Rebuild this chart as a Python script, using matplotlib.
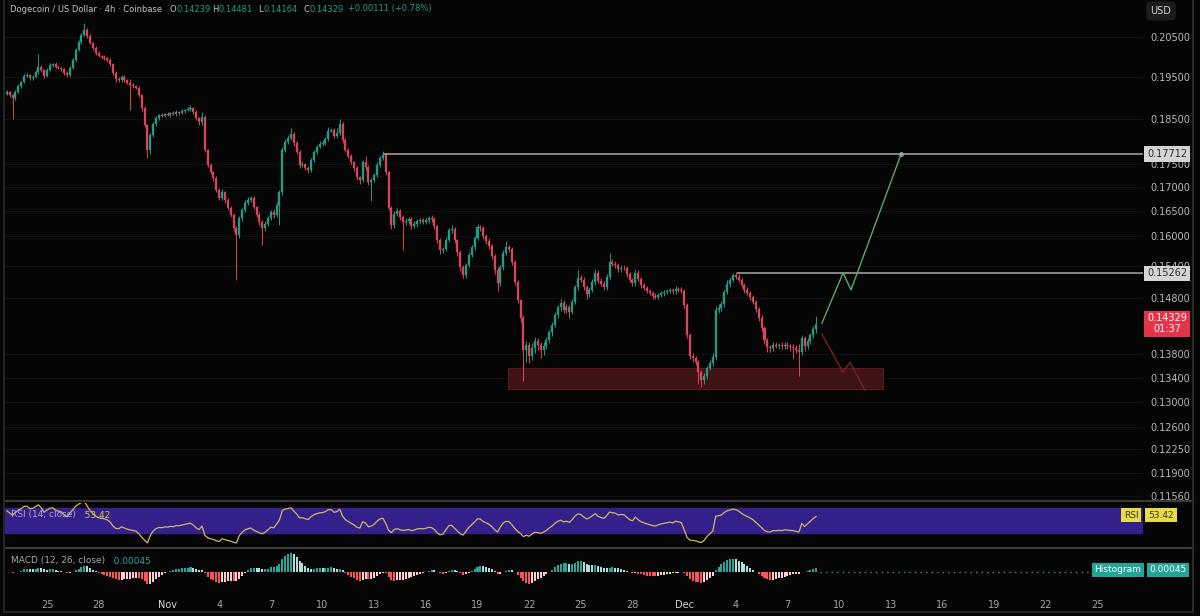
import numpy as np
import matplotlib
matplotlib.use("Agg")
import matplotlib.pyplot as plt
from matplotlib import transforms
from matplotlib.patches import Rectangle
from matplotlib.ticker import NullLocator

# ---------------- data (x = days since Oct 25, 4h candles) ----------------
first_candle_day = -7 / 3          # Oct 22 16:00
candle_step = 1 / 6                # 4 hours
first_open = 0.1910

closes = [
    0.1914, 0.1907,                                   # Oct 22
    0.1900, 0.1914, 0.1928, 0.1938, 0.1953, 0.1955,   # Oct 23
    0.1948, 0.1950, 0.1962, 0.1975, 0.1967, 0.1953,   # Oct 24
    0.1967, 0.1980, 0.1982, 0.1975, 0.1972, 0.1970,   # Oct 25
    0.1960, 0.1955, 0.1972, 0.1992, 0.2017, 0.2037,   # Oct 26
    0.2055, 0.2068, 0.2053, 0.2035, 0.2022, 0.2010,   # Oct 27
    0.2002, 0.1999, 0.1997, 0.1992, 0.1982, 0.1960,   # Oct 28
    0.1945, 0.1943, 0.1950, 0.1943, 0.1936, 0.1931,   # Oct 29
    0.1928, 0.1924, 0.1907, 0.1876, 0.1837, 0.1780,   # Oct 30
    0.1814, 0.1839, 0.1853, 0.1860, 0.1858, 0.1862,   # Oct 31
    0.1860, 0.1864, 0.1862, 0.1867, 0.1865, 0.1869,   # Nov 1
    0.1871, 0.1874, 0.1876, 0.1867, 0.1853, 0.1843,   # Nov 2
    0.1855, 0.1780, 0.1747, 0.1732, 0.1719, 0.1694,   # Nov 3
    0.1677, 0.1689, 0.1673, 0.1656, 0.1642, 0.1615,   # Nov 4
    0.1601, 0.1635, 0.1652, 0.1666, 0.1673, 0.1677,   # Nov 5
    0.1658, 0.1642, 0.1627, 0.1615, 0.1623, 0.1635,   # Nov 6
    0.1648, 0.1642, 0.1662, 0.1689, 0.1780, 0.1798,   # Nov 7
    0.1807, 0.1816, 0.1796, 0.1776, 0.1747, 0.1749,   # Nov 8
    0.1741, 0.1736, 0.1758, 0.1776, 0.1787, 0.1794,   # Nov 9
    0.1796, 0.1805, 0.1823, 0.1825, 0.1812, 0.1818,   # Nov 10
    0.1839, 0.1803, 0.1780, 0.1767, 0.1754, 0.1741,   # Nov 11
    0.1721, 0.1715, 0.1754, 0.1743, 0.1710, 0.1715,   # Nov 12
    0.1726, 0.1747, 0.1763, 0.1769, 0.1732, 0.1656,   # Nov 13
    0.1621, 0.1644, 0.1650, 0.1637, 0.1627, 0.1629,   # Nov 14
    0.1633, 0.1619, 0.1623, 0.1629, 0.1631, 0.1628,   # Nov 15
    0.1631, 0.1635, 0.1633, 0.1619, 0.1591, 0.1571,   # Nov 16
    0.1574, 0.1591, 0.1611, 0.1613, 0.1591, 0.1567,   # Nov 17
    0.1538, 0.1523, 0.1542, 0.1562, 0.1577, 0.1595,   # Nov 18
    0.1617, 0.1615, 0.1599, 0.1589, 0.1579, 0.1560,   # Nov 19
    0.1533, 0.1508, 0.1538, 0.1565, 0.1577, 0.1573,   # Nov 20
    0.1548, 0.1510, 0.1476, 0.1444, 0.1387, 0.1396,   # Nov 21
    0.1377, 0.1391, 0.1403, 0.1396, 0.1387, 0.1394,   # Nov 22
    0.1404, 0.1418, 0.1431, 0.1449, 0.1463, 0.1471,   # Nov 23
    0.1458, 0.1463, 0.1454, 0.1473, 0.1500, 0.1517,   # Nov 24
    0.1514, 0.1500, 0.1487, 0.1495, 0.1510, 0.1527,   # Nov 25
    0.1512, 0.1506, 0.1500, 0.1519, 0.1548, 0.1545,   # Nov 26
    0.1542, 0.1534, 0.1537, 0.1536, 0.1525, 0.1514,   # Nov 27
    0.1508, 0.1527, 0.1515, 0.1504, 0.1499, 0.1493,   # Nov 28
    0.1489, 0.1484, 0.1482, 0.1486, 0.1489, 0.1491,   # Nov 29
    0.1493, 0.1495, 0.1492, 0.1497, 0.1495, 0.1493,   # Nov 30
    0.1467, 0.1413, 0.1377, 0.1373, 0.1366, 0.1349,   # Dec 1
    0.1336, 0.1343, 0.1356, 0.1365, 0.1375, 0.1458,   # Dec 2
    0.1462, 0.1469, 0.1491, 0.1506, 0.1514, 0.1523,   # Dec 3
    0.1520, 0.1514, 0.1504, 0.1495, 0.1489, 0.1482,   # Dec 4
    0.1473, 0.1460, 0.1444, 0.1426, 0.1404, 0.1392,   # Dec 5
    0.1390, 0.1396, 0.1394, 0.1396, 0.1393, 0.1396,   # Dec 6
    0.1394, 0.1392, 0.1391, 0.1387, 0.1384, 0.1408,   # Dec 7
    0.1394, 0.1403, 0.1413, 0.14239, 0.14329,         # Dec 8
]

# wick lengths, in units of 0.0001
wick_up = [
    4, 3,
    3, 5, 4, 3, 4, 6,
    3, 4, 5, 32, 4, 3,
    4, 5, 3, 4, 3, 3,
    3, 4, 5, 4, 6, 5,
    6, 18, 5, 4, 3, 4,
    4, 3, 5, 3, 4, 3,
    5, 4, 6, 4, 3, 10,
    4, 3, 4, 3, 4, 3,
    5, 4, 4, 3, 4, 3,
    4, 3, 5, 4, 3, 4,
    3, 4, 6, 3, 4, 3,
    12, 4, 3, 4, 3, 5,
    4, 6, 3, 4, 5, 3,
    4, 5, 4, 6, 5, 4,
    4, 3, 5, 4, 6, 5,
    4, 5, 6, 4, 8, 6,
    8, 14, 4, 5, 4, 6,
    3, 4, 5, 4, 5, 6,
    6, 5, 8, 4, 5, 12,
    11, 5, 4, 5, 4, 3,
    4, 3, 5, 12, 4, 5,
    4, 6, 5, 8, 4, 3,
    4, 6, 5, 4, 5, 6,
    5, 4, 6, 5, 4, 5,
    4, 5, 6, 4, 3, 5,
    4, 6, 5, 8, 4, 3,
    4, 5, 4, 6, 5, 4,
    6, 5, 4, 5, 6, 4,
    4, 5, 4, 6, 12, 4,
    4, 3, 4, 3, 4, 6,
    5, 8, 6, 4, 5, 6,
    6, 4, 5, 6, 4, 8,
    5, 6, 4, 6, 5, 15,
    6, 5, 4, 5, 6, 8,
    5, 6, 5, 6, 17, 6,
    5, 4, 5, 6, 4, 3,
    4, 8, 5, 4, 3, 4,
    3, 4, 5, 4, 3, 4,
    4, 3, 4, 5, 4, 5,
    4, 3, 4, 5, 3, 4,
    4, 5, 4, 5, 6, 8,
    6, 5, 4, 8, 5, 4,
    6, 5, 4, 3, 5, 4,
    3, 4, 3, 4, 3, 4,
    4, 5, 4, 3, 4, 5,
    4, 3, 5, 4, 10, 6,
    4, 5, 4, 5, 15,
]
wick_dn = [
    4, 5,
    50, 4, 3, 4, 3, 4,
    5, 4, 3, 4, 5, 6,
    4, 3, 5, 4, 3, 4,
    5, 6, 4, 3, 4, 3,
    4, 3, 5, 4, 6, 5,
    3, 4, 5, 4, 5, 6,
    6, 5, 4, 5, 4, 60,
    4, 3, 5, 6, 4, 17,
    8, 5, 4, 5, 3, 4,
    3, 4, 3, 4, 5, 3,
    4, 3, 4, 5, 4, 6,
    6, 5, 4, 5, 6, 4,
    5, 4, 6, 4, 5, 6,
    87, 6, 5, 4, 3, 4,
    5, 4, 6, 34, 5, 4,
    4, 6, 5, 40, 6, 5,
    4, 5, 6, 5, 6, 4,
    5, 6, 4, 5, 4, 3,
    4, 5, 4, 3, 5, 4,
    5, 6, 5, 4, 5, 6,
    6, 8, 5, 6, 5, 40,
    5, 4, 5, 4, 6, 5,
    8, 6, 5, 6, 55, 6,
    5, 6, 4, 5, 6, 5,
    4, 5, 6, 5, 6, 7,
    6, 5, 4, 5, 6, 7,
    8, 6, 5, 4, 5, 6,
    4, 5, 6, 5, 6, 7,
    8, 15, 6, 5, 4, 5,
    6, 5, 6, 7, 53, 20,
    12, 8, 10, 9, 14, 8,
    6, 5, 6, 4, 5, 6,
    6, 5, 10, 4, 5, 6,
    5, 6, 8, 5, 4, 5,
    5, 4, 6, 5, 4, 5,
    5, 6, 5, 4, 6, 5,
    6, 5, 4, 6, 5, 4,
    4, 5, 4, 3, 4, 5,
    4, 3, 4, 5, 4, 3,
    5, 6, 5, 6, 5, 20,
    11, 6, 5, 4, 5, 6,
    5, 6, 5, 4, 5, 4,
    4, 5, 4, 5, 4, 6,
    4, 5, 6, 5, 6, 8,
    6, 5, 4, 6, 5, 4,
    5, 6, 20, 5, 41, 6,
    8, 6, 5, 6, 8,
]

price_ticks = [0.205, 0.195, 0.185, 0.175, 0.170, 0.165, 0.160, 0.154,
               0.148, 0.138, 0.134, 0.130, 0.126, 0.1225, 0.119, 0.1156]
tick_days = [0, 3, 7, 10, 13, 16, 19, 22, 25, 28, 31, 34, 37, 40, 43, 46,
             49, 52, 55, 58, 61]
tick_labels = ["25", "28", "Nov", "4", "7", "10", "13", "16", "19", "22", "25",
               "28", "Dec", "4", "7", "10", "13", "16", "19", "22", "25"]

resistance_hi = 0.17712
resistance_hi_start = 19.5
resistance_lo = 0.15262
resistance_lo_start = 40.07
zone_days = (26.77, 48.55)
zone_prices = (0.1321, 0.1356)
bull_path_days = [45.0, 46.23, 46.69, 49.6]
bull_path_prices = [0.1434, 0.1527, 0.1495, 0.17712]
bear_path_days = [45.0, 46.22, 46.63, 47.5]
bear_path_prices = [0.1415, 0.1349, 0.1366, 0.1319]

header_title = "Dogecoin / US Dollar \u00b7 4h \u00b7 Coinbase"
header_fields = [("O", "0.14239", 169), ("H", "0.14481", 212), ("L", "0.14164", 258),
                 ("C", "0.14329", 303), ("", "+0.00111 (+0.78%)", 348)]

# ---------------- derived series ----------------
c = np.array(closes)
o = np.concatenate([[first_open], c[:-1]])
up = np.array(wick_up) * 1e-4
dn = np.array(wick_dn) * 1e-4
hi = np.maximum(o, c) + up
lo = np.minimum(o, c) - dn
x = first_candle_day + candle_step * np.arange(len(c))


def rma(v, n):
    out = np.empty_like(v)
    out[0] = np.mean(v[:n])
    for i in range(1, len(v)):
        out[i] = out[i - 1] + (v[i] - out[i - 1]) / n
    return out


def ema(v, n):
    a = 2 / (n + 1)
    out = np.empty_like(v)
    out[0] = v[0]
    for i in range(1, len(v)):
        out[i] = a * v[i] + (1 - a) * out[i - 1]
    return out


delta = np.diff(c, prepend=c[0])
ag = rma(np.clip(delta, 0, None), 14)
al = rma(np.clip(-delta, 0, None), 14)
rsi = 100 - 100 / (1 + ag / np.maximum(al, 1e-9))
macd = ema(c, 12) - ema(c, 26)
hist = macd - ema(macd, 9)

# ---------------- figure ----------------
W, H = 1200, 616
BG = "#050505"
fig = plt.figure(figsize=(W / 100, H / 100), dpi=100, facecolor=BG)


def fx(px):
    return px / W


def fy(py):
    return 1 - py / H


left_px, right_px = 5, 1143
ax = fig.add_axes([fx(left_px), fy(500), fx(right_px - left_px), 500 / H])
ax_r = fig.add_axes([fx(left_px), fy(547), fx(right_px - left_px), 44 / H], sharex=ax)
ax_m = fig.add_axes([fx(left_px), fy(588), fx(right_px - left_px), 38 / H], sharex=ax)

for a in (ax, ax_r, ax_m):
    a.set_facecolor(BG)
    for s in a.spines.values():
        s.set_visible(False)

day_px = 17.22
x_left = (left_px - 47) / day_px
x_right = (right_px - 47) / day_px
ax.set_xlim(x_left, x_right)

# main price pane
ax.set_yscale("log")
ax.set_ylim(0.205 * np.exp(-463 / 801), 0.205 * np.exp(37 / 801))
ax.yaxis.tick_right()
ax.set_yticks(price_ticks)
ax.set_yticklabels([f"{p:.5f}" for p in price_ticks])
ax.yaxis.set_minor_locator(NullLocator())
ax.tick_params(axis="y", length=0, pad=5, labelsize=7, labelcolor="#b8b8b8")
ax.tick_params(axis="x", length=0, labelbottom=False)
for p in price_ticks:
    ax.axhline(p, color="#121212", lw=0.8, zorder=0)

GREEN, RED = "#1f9e86", "#dc4459"
cols = np.where(c >= o, GREEN, RED)
body_h = np.maximum(np.abs(c - o), 0.00010)
ax.vlines(x, lo, hi, colors=cols, lw=0.7, zorder=3)
ax.bar(x, body_h, bottom=np.minimum(o, c), width=candle_step * 0.7,
       color=cols, edgecolor=cols, lw=0.2, zorder=4)

ax.add_patch(Rectangle((zone_days[0], zone_prices[0]), zone_days[1] - zone_days[0],
                       zone_prices[1] - zone_prices[0], facecolor="#3f1216",
                       edgecolor="#5a1a20", lw=0.8, zorder=2))
ax.hlines(resistance_hi, resistance_hi_start, x_right, color="#9c9c9c", lw=1.2, zorder=5)
ax.hlines(resistance_lo, resistance_lo_start, x_right, color="#9c9c9c", lw=1.2, zorder=5)
ax.plot(bull_path_days, bull_path_prices, color="#5aa867", lw=1.0, zorder=6)
ax.plot(bull_path_days[-1:], bull_path_prices[-1:], "o", ms=2.5, color="#9c9c9c", zorder=6)
ax.plot(bear_path_days, bear_path_prices, color="#7a2026", lw=1.0, zorder=6)

# price labels on the scale
blend = transforms.blended_transform_factory(fig.transFigure, ax.transData)
for val in (resistance_hi, resistance_lo):
    ax.text(fx(1167), val, f"{val:.5f}", transform=blend, ha="center", va="center",
            fontsize=7, color="#2a2a2a", zorder=10, clip_on=False,
            bbox=dict(boxstyle="square,pad=0.28", fc="#d4d4d4", ec="none"))
ax.text(fx(1167), closes[-1], "0.14329\n01:37", transform=blend, ha="center", va="center",
        fontsize=7, color="white", linespacing=1.1, zorder=10, clip_on=False,
        bbox=dict(boxstyle="square,pad=0.3", fc="#e53448", ec="none"))

# RSI pane
ax_r.set_ylim(6.7, 78.3)
ax_r.axhspan(30, 70, color="#34208a", zorder=0)
ax_r.plot(x, rsi, color="#cfb862", lw=0.9, zorder=3)
ax_r.set_yticks([])
ax_r.tick_params(axis="x", length=0, labelbottom=False)

# MACD pane
hcols = []
for i, h in enumerate(hist):
    prev = hist[i - 1] if i > 0 else 0
    if h >= 0:
        hcols.append("#26a69a" if h >= prev else "#b2dfdb")
    else:
        hcols.append("#ff5252" if h < prev else "#ffcdd2")
ax_m.bar(x, hist, width=candle_step * 0.7, color=hcols, zorder=3)
M = np.max(np.abs(hist)) * 22 / 19
ax_m.set_ylim(-M * 16 / 22, M)
ax_m.hlines(0, x[-1] + 0.2, (1090 - 47) / day_px, color="#26a69a", lw=1.0,
            linestyles=(0, (1, 3)), zorder=2)
ax_m.set_yticks([])
ax_m.set_xticks(tick_days)
ax_m.set_xticklabels(tick_labels)
ax_m.tick_params(axis="x", length=0, pad=9, labelsize=7, labelcolor="#a4a4a4")
for lbl in ax_m.get_xticklabels():
    if lbl.get_text() in ("Nov", "Dec"):
        lbl.set_color("#d8d8d8")

# separators and frame
for py in (501, 548):
    fig.add_artist(plt.Line2D([fx(4), fx(1193)], [fy(py), fy(py)], color="#3a3a3a", lw=1.6))
fig.add_artist(plt.Line2D([fx(4), fx(1193)], [fy(612), fy(612)], color="#2c2c2c", lw=1.2))
fig.add_artist(plt.Line2D([fx(3.5), fx(3.5)], [fy(0), fy(612)], color="#242424", lw=1.5))
fig.add_artist(plt.Line2D([fx(1193), fx(1193)], [fy(0), fy(612)], color="#2a2a2a", lw=1.5))

# USD box
fig.text(fx(1161), fy(11), "USD", ha="center", va="center", fontsize=7, color="#cfcfcf",
         bbox=dict(boxstyle="round,pad=0.45", fc="#1c1c1c", ec="none"))

# header
renderer = fig.canvas.get_renderer()
HFS = 6.0
fig.text(fx(10), fy(9), header_title, ha="left", va="center", fontsize=HFS, color="#c4c4c4")
for key, val, px in header_fields:
    xx = px
    if key:
        t = fig.text(fx(xx), fy(9), key, ha="left", va="center", fontsize=HFS, color="#c4c4c4")
        xx += t.get_window_extent(renderer).width + 0.5
    fig.text(fx(xx), fy(9), val, ha="left", va="center", fontsize=HFS, color="#1f9e86")


def seq_text(x0, y0, pieces, size):
    xx = x0
    for s, col in pieces:
        t = fig.text(fx(xx), fy(y0), s, ha="left", va="center", fontsize=size, color=col)
        xx += t.get_window_extent(renderer).width


seq_text(11, 515, [("RSI (14, close)", "#a8a8c8"), ("   53.42", "#d9c64e")], 6.5)
seq_text(11, 561, [("MACD (12, 26, close)", "#a8a8a8"), ("   0.00045", "#26a69a")], 6.5)

fig.text(fx(1131), fy(515), "RSI", ha="center", va="center", fontsize=6.5, color="#3a3510",
         bbox=dict(boxstyle="square,pad=0.3", fc="#e8da4a", ec="none"))
fig.text(fx(1161), fy(515), "53.42", ha="center", va="center", fontsize=6.5, color="#3a3510",
         bbox=dict(boxstyle="square,pad=0.3", fc="#e8da4a", ec="none"))
fig.text(fx(1118), fy(570), "Histogram", ha="center", va="center", fontsize=6.5, color="white",
         bbox=dict(boxstyle="square,pad=0.3", fc="#23a596", ec="none"))
fig.text(fx(1168), fy(570), "0.00045", ha="center", va="center", fontsize=6.5, color="white",
         bbox=dict(boxstyle="square,pad=0.3", fc="#23a596", ec="none"))

fig.savefig("out.png", dpi=100, facecolor=BG)
